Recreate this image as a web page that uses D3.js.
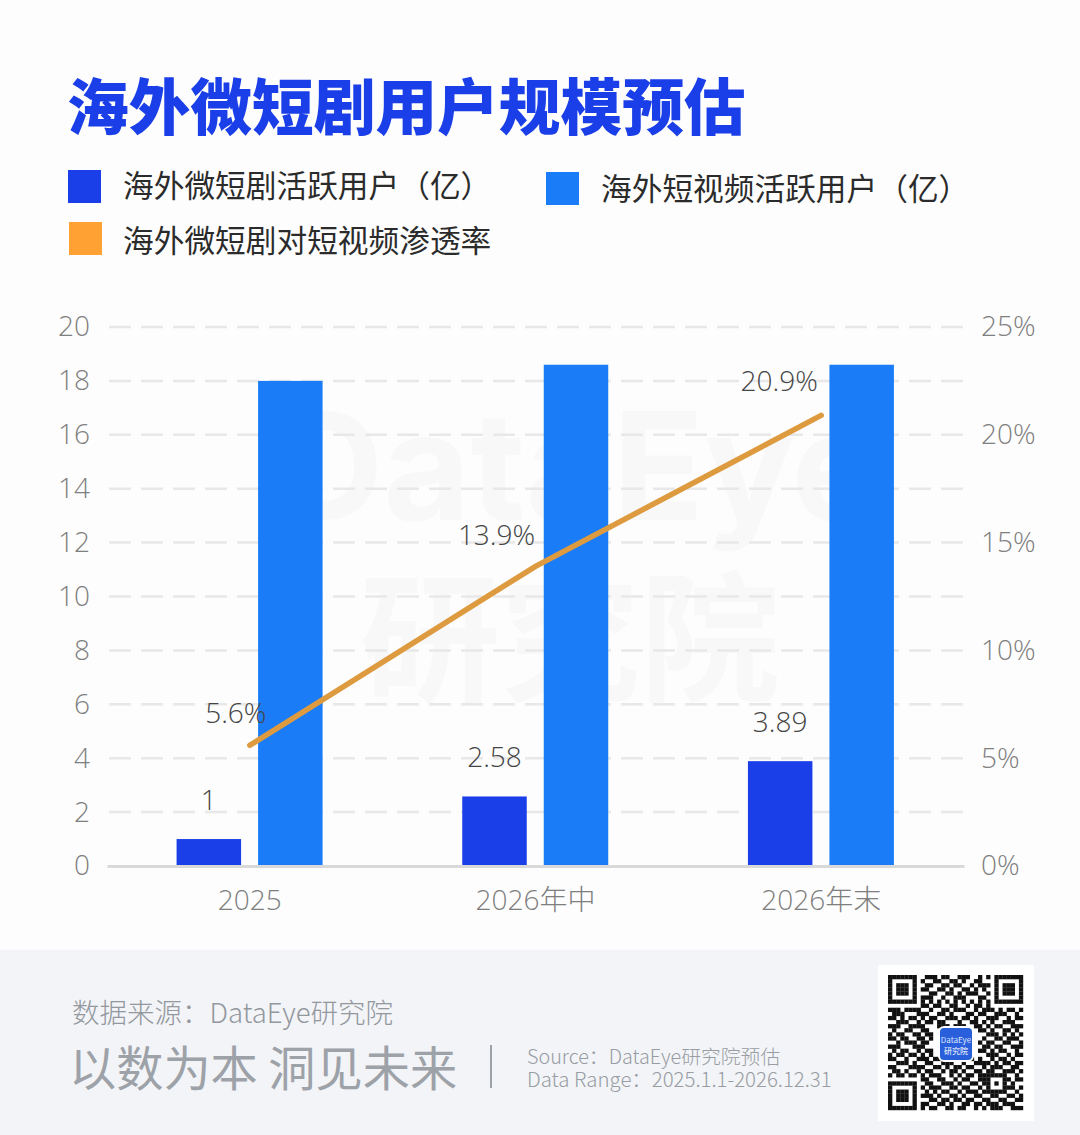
<!DOCTYPE html>
<html><head><meta charset="utf-8">
<script src="https://cdn.jsdelivr.net/npm/d3@7"></script>
<style>html,body{margin:0;padding:0;background:#fdfdfd}svg{display:block}
text{font-family:"Noto Sans CJK SC","Noto Sans",sans-serif}</style></head>
<body><svg id="c" width="1080" height="1135"></svg>
<script>
const categories=["2025","2026年中","2026年末"];
const dramaUsers=[1,2.58,3.89];
const videoUsers=[18,18.6,18.6];
const penetration=[5.6,13.9,20.9];
const penetrationLabels=["5.6%","13.9%","20.9%"];
const leftTicks=[0,2,4,6,8,10,12,14,16,18,20];
const rightTicks=[0,5,10,15,20,25];
const qrRows=[
"111111100111011001110010101111111",
"100000101001100110100110001000001",
"101110100110011011001011101011101",
"101110101100110100110101001011101",
"101110100011001101011100101011101",
"100000101110010011100011001000001",
"111111101010101010101010101111111",
"000000001101100110010110100000000",
"111011110010011011100101110101101",
"011100011100110100011011001110010",
"110101101011001110110100111001011",
"001110010110110001001101010011100",
"111001111000111011100110101100111",
"010011001100000000000011010011010",
"101100110110000000000000111010101",
"110110011010000000000001001101110",
"001011101100000000000010110011001",
"111000111000000000000001101100111",
"010110010110000000000011010110010",
"101101101010000000000000111001011",
"110010011101110011011010010110100",
"001110100110011100100111101011011",
"110001111001101011011001011100110",
"011010010110010110100110110011101",
"101101101011100101011011111110010",
"000000001100110010110011100011011",
"111111100110011101001101101010100",
"100000101011100110110010100011101",
"101110100101011001011101111110010",
"101110101110100110100110011001101",
"101110100011011011011001100110011",
"100000101100110100110110111011100",
"111111101011001101100101011100111"];
const svg=d3.select("#c");
const x=d3.scaleBand().domain(categories).range([107,964]);
const yL=d3.scaleLinear().domain([0,20]).range([866,327]);
const yR=d3.scaleLinear().domain([0,25]).range([866,327]);
const BLUE1="#1a3fe8",BLUE2="#1a7df7",OR="#ffa233",LINE="#dd9a3f";
const cx=c=>x(c)+x.bandwidth()/2;
svg.append("rect").attr("width",1080).attr("height",950).attr("fill","#fdfdfd");
svg.append("rect").attr("y",950).attr("width",1080).attr("height",185).attr("fill","#f2f4f7");
// watermark
const wm=svg.append("g").attr("fill","#f8f8f9").attr("text-anchor","middle").attr("font-weight",700);
wm.append("text").attr("x",578).attr("y",520).attr("font-size",150).style("font-family","Inter,'Noto Sans'").text("DataEye");
wm.append("text").attr("x",570).attr("y",690).attr("font-size",140).text("研究院");
// title
svg.append("text").attr("x",67).attr("y",130).attr("font-size",61.7).attr("font-weight",900).attr("fill",BLUE1).text("海外微短剧用户规模预估");
// legend
[[68,170,BLUE1,123,169,"海外微短剧活跃用户（亿）"],[546,172,BLUE2,601,172,"海外短视频活跃用户（亿）"],[69,222,OR,123,224,"海外微短剧对短视频渗透率"]].forEach(d=>{
 svg.append("rect").attr("x",d[0]).attr("y",d[1]).attr("width",33).attr("height",33).attr("fill",d[2]);
 svg.append("text").attr("x",d[3]).attr("y",d[4]+28).attr("font-size",30.7).attr("fill","#2b2b2b").text(d[5]);
});
// grid
const grid=svg.append("g");
leftTicks.filter(t=>t>0).forEach(t=>grid.append("line").attr("x1",109).attr("x2",964).attr("y1",yL(t)).attr("y2",yL(t)).attr("stroke","#e8e8e8").attr("stroke-width",2.5).attr("stroke-dasharray","22 10"));
// axes
const axL=svg.append("g").attr("transform","translate(93,0)").call(d3.axisLeft(yL).tickValues(leftTicks).tickSize(0));
const axR=svg.append("g").attr("transform","translate(978,0)").call(d3.axisRight(yR).tickValues(rightTicks).tickFormat(d=>d+"%").tickSize(0));
const axB=svg.append("g").attr("transform","translate(0,866)").call(d3.axisBottom(x).tickSize(0).tickPadding(24));
[axL,axR,axB].forEach(a=>{a.selectAll("text").attr("font-size",28).attr("font-weight",300).attr("fill","#7f7f7f").style("font-family","'Open Sans','Noto Sans CJK SC'");});
axL.select(".domain").remove();axR.select(".domain").remove();
axB.select(".domain").attr("stroke","#d9d9d9").attr("stroke-width",3);
// bars
const barW=64.5,gap=17.5;
svg.append("g").selectAll("rect").data(categories).join("rect")
 .attr("x",d=>cx(d)-gap/2-barW).attr("width",barW)
 .attr("y",(d,i)=>yL(dramaUsers[i])).attr("height",(d,i)=>865-yL(dramaUsers[i])).attr("fill",BLUE1);
svg.append("g").selectAll("rect").data(categories).join("rect")
 .attr("x",d=>cx(d)+gap/2-.5).attr("width",barW)
 .attr("y",(d,i)=>yL(videoUsers[i])).attr("height",(d,i)=>865-yL(videoUsers[i])).attr("fill",BLUE2);
// line
const line=d3.line().x((d,i)=>cx(categories[i])).y(d=>yR(d));
svg.append("path").datum(penetration).attr("d",line).attr("fill","none").attr("stroke",LINE).attr("stroke-width",5.5).attr("stroke-linecap","round");
// labels
function T(x0,y0,s){svg.append("text").attr("x",x0).attr("y",y0).attr("font-size",28).attr("font-weight",300).attr("fill","#454545").attr("text-anchor","middle").style("font-family","'Open Sans'").text(s);}
dramaUsers.forEach((v,i)=>T(cx(categories[i])-41,yL(v)-29,String(v)));
const lineLabelDx=[-14,-39,-42],lineLabelDy=[-22,-21,-24];
penetration.forEach((v,i)=>T(cx(categories[i])+lineLabelDx[i],yR(v)+lineLabelDy[i],penetrationLabels[i]));
// footer
svg.append("text").attr("x",72).attr("y",1023).attr("font-size",27.5).attr("font-weight",300).attr("fill","#93979e").text("数据来源：DataEye研究院");
svg.append("text").attr("x",69).attr("y",1086).attr("font-size",47.2).attr("font-weight",400).attr("fill","#9da1a8").text("以数为本 洞见未来");
svg.append("rect").attr("x",490).attr("y",1045).attr("width",2).attr("height",43).attr("fill","#9da1a8");
svg.append("text").attr("x",527).attr("y",1064).attr("font-size",19.8).attr("font-weight",300).attr("fill","#989ca3").text("Source：DataEye研究院预估");
svg.append("text").attr("x",527).attr("y",1087).attr("font-size",20.4).attr("font-weight",300).attr("fill","#989ca3").text("Data Range：2025.1.1-2026.12.31");
// QR
svg.append("rect").attr("x",878).attr("y",965).attr("width",156).attr("height",156).attr("fill","#fff");
const m=135/33;
const cells=qrRows.flatMap((r,j)=>r.split("").map((c,i)=>({i,j,c})).filter(d=>d.c==="1"));
svg.append("g").attr("fill","#111").selectAll("rect").data(cells).join("rect")
 .attr("x",d=>888+d.i*m).attr("y",d=>975+d.j*m).attr("width",m+.2).attr("height",m+.2);
svg.append("rect").attr("x",939).attr("y",1027).attr("width",34).attr("height",34).attr("rx",5).attr("fill","#2a5fdc").attr("stroke","#fff").attr("stroke-width",2);
svg.append("text").attr("x",956).attr("y",1043).attr("font-size",8).attr("fill","#dfe8ff").attr("text-anchor","middle").text("DataEye");
svg.append("text").attr("x",956).attr("y",1054).attr("font-size",8).attr("fill","#fff").attr("text-anchor","middle").text("研究院");
</script></body></html>
